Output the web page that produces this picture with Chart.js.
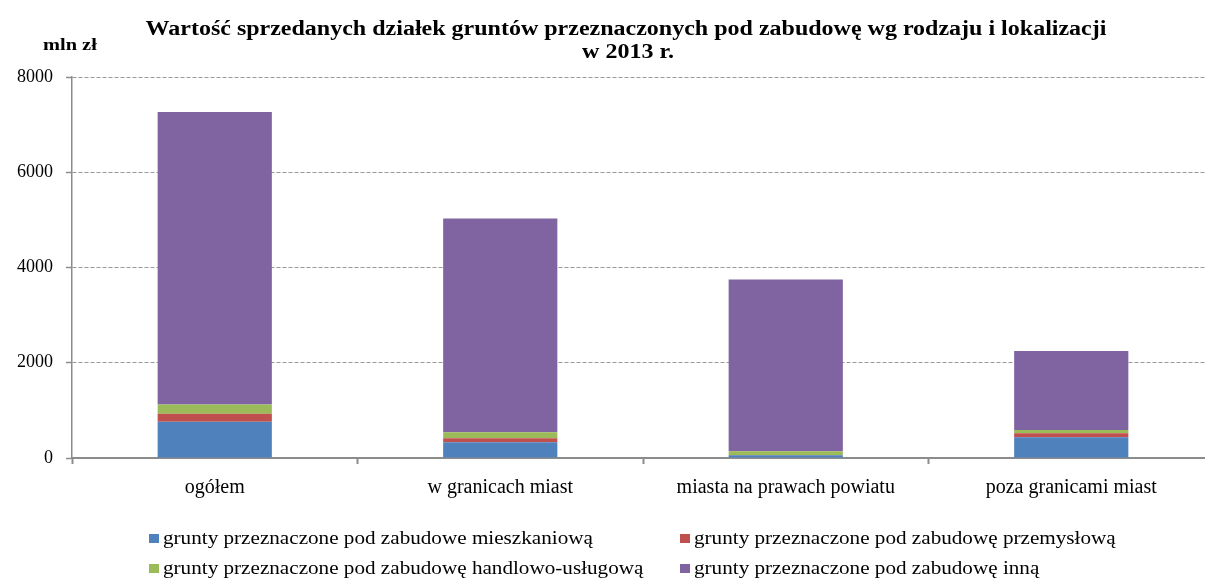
<!DOCTYPE html>
<html lang="pl">
<head>
<meta charset="utf-8">
<title>Wartość sprzedanych działek gruntów</title>
<script src="https://cdn.jsdelivr.net/npm/chart.js@4/dist/chart.umd.min.js"></script>
<style>
  html, body { margin: 0; padding: 0; background: #fff; overflow: hidden; }
  #wrap { width: 1214px; height: 581px; }
</style>
</head>
<body>
<div id="wrap"><canvas id="landChart" width="1214" height="581"></canvas></div>
<script>
// --- DANE ---
const categories = ['ogółem', 'w granicach miast', 'miasta na prawach powiatu', 'poza granicami miast'];
const seriesNames = [
    'grunty przeznaczone pod zabudowe mieszkaniową',
    'grunty przeznaczone pod zabudowę przemysłową',
    'grunty przeznaczone pod zabudowę handlowo-usługową',
    'grunty przeznaczone pod zabudowę inną'
];
const mieszkaniowa = [760, 330, 60, 435];
const przemyslowa = [170, 85, 5, 85];
const handlowa = [195, 125, 75, 70];
const inna = [6140, 4490, 3610, 1655];
const yTicks = [0, 2000, 4000, 6000, 8000];

const colors = ['#4F81BD', '#C0504D', '#9BBB59', '#8064A2'];
const serif = "'Liberation Serif', 'Times New Roman', serif";

// tekst lekko rozciągnięty w poziomie (sx)
function wideText(ctx, text, x, y, sx) {
    ctx.save();
    ctx.translate(x, y);
    ctx.scale(sx, 1);
    ctx.fillText(text, 0, 0);
    ctx.restore();
}

// tytuł, jednostka i legenda w dwóch kolumnach
const extras = {
    id: 'extras',
    afterDraw(chart) {
        const ctx = chart.ctx;
        ctx.save();
        ctx.fillStyle = '#000';
        ctx.textAlign = 'center';
        ctx.textBaseline = 'middle';
        ctx.font = 'bold 20px ' + serif;
        wideText(ctx, 'Wartość sprzedanych działek gruntów przeznaczonych pod zabudowę wg rodzaju i lokalizacji', 626, 30, 1.2);
        wideText(ctx, 'w 2013 r.', 628, 53, 1.2);
        ctx.textAlign = 'left';
        ctx.font = 'bold 17px ' + serif;
        wideText(ctx, 'mln zł', 43, 46, 1.2);

        ctx.font = '18px ' + serif;
        const cols = [149, 680];
        const rows = [538, 568];
        chart.data.datasets.forEach((ds, i) => {
            const x = cols[i % 2];
            const y = rows[Math.floor(i / 2)];
            ctx.fillStyle = ds.backgroundColor;
            ctx.fillRect(x, y - 4, 10, 9);
            ctx.fillStyle = '#000';
            wideText(ctx, ds.label, x + 14, y + 1, 1.175);
        });
        ctx.restore();
    }
};

const ctx = document.getElementById('landChart').getContext('2d');
new Chart(ctx, {
    type: 'bar',
    data: {
        labels: categories,
        datasets: [mieszkaniowa, przemyslowa, handlowa, inna].map((values, i) => ({
            label: seriesNames[i],
            data: values,
            backgroundColor: colors[i],
            borderWidth: 0,
            barPercentage: 0.4,
            categoryPercentage: 1.0
        }))
    },
    options: {
        responsive: false,
        animation: false,
        layout: { padding: { top: 77, left: 4, right: 0, bottom: 69 } },
        plugins: {
            legend: { display: false },
            title: { display: false },
            tooltip: { enabled: false }
        },
        scales: {
            x: {
                stacked: true,
                offset: true,
                grid: {
                    offset: true,
                    drawOnChartArea: false,
                    drawTicks: true,
                    tickLength: 6,
                    tickColor: '#8c8c8c',
                    tickWidth: 2
                },
                border: { color: '#8c8c8c', width: 2 },
                ticks: {
                    color: '#000',
                    font: { family: serif, size: 20 },
                    padding: 12,
                    maxRotation: 0
                }
            },
            y: {
                stacked: true,
                min: 0,
                max: 8000,
                afterBuildTicks(scale) {
                    scale.ticks = yTicks.map(v => ({ value: v }));
                },
                grid: {
                    color: '#999',
                    lineWidth: 1,
                    tickLength: 6,
                    tickColor: '#8c8c8c',
                    tickWidth: 1.5
                },
                border: { color: '#8c8c8c', width: 1.5, dash: [4, 2] },
                ticks: {
                    color: '#000',
                    font: { family: serif, size: 18 },
                    padding: 13,
                    callback: v => String(v)
                }
            }
        }
    },
    plugins: [extras]
});
</script>
</body>
</html>
